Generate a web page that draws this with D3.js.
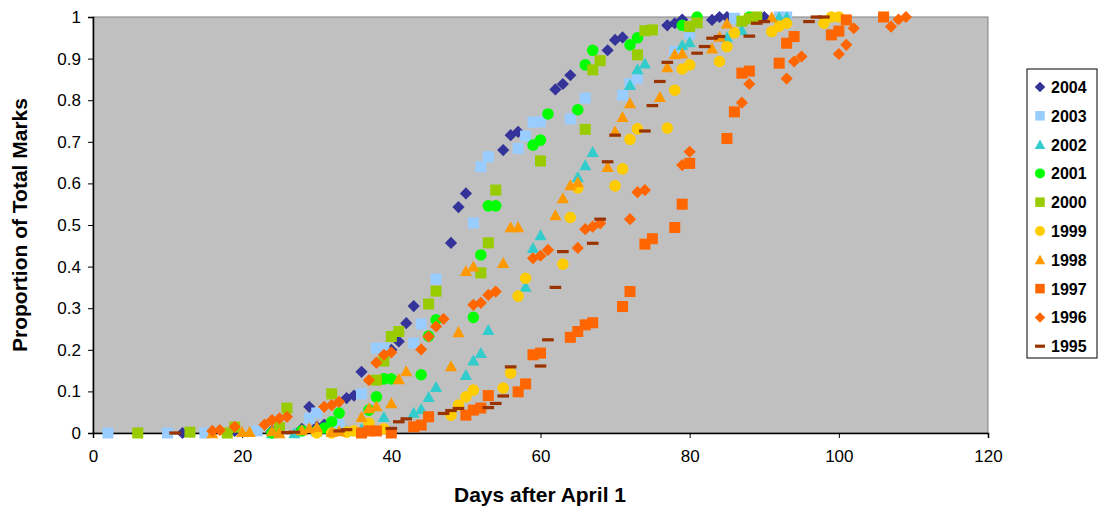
<!DOCTYPE html>
<html>
<head>
<meta charset="utf-8">
<title>Proportion of total marks</title>
<script src="https://d3js.org/d3.v7.min.js"></script>
<style>
  body { margin: 0; background: #fff; font-family: Arial, "Liberation Sans", sans-serif; }
  svg text { font-family: Arial, "Liberation Sans", sans-serif; }
</style>
</head>
<body>
<svg id="chart" width="1099" height="511"></svg>
<script>
// values: [day after April 1, proportion of total marks]
const years = ["2004", "2003", "2002", "2001", "2000", "1999", "1998", "1997", "1996", "1995"];

const s2004 = [[12,0],[19,0.005],[24,0.005],[28,0.01],[29,0.063],[30,0.015],[31,0.02],[34,0.084],[35,0.09],[36,0.147],[40,0.2],[41,0.22],[42,0.264],[43,0.305],[48,0.457],[49,0.543],[50,0.576],[55,0.68],[56,0.716],[57,0.724],[62,0.826],[63,0.839],[64,0.86],[69,0.92],[70,0.945],[71,0.951],[77,0.98],[78,0.985],[79,0.994],[83,0.993],[84,1],[85,1],[90,1]];
const s2003 = [[2,0],[10,0],[15,0],[22,0.005],[29,0.035],[30,0.048],[33,0.02],[36,0.094],[38,0.204],[39,0.204],[43,0.216],[44,0.262],[46,0.37],[51,0.505],[52,0.64],[53,0.664],[57,0.684],[58,0.714],[59,0.747],[60,0.748],[64,0.755],[66,0.805],[71,0.812],[72,0.84],[73,0.853],[78,0.917],[80,0.96],[86,0.997],[92,1],[93,1]];
const s2002 = [[24,0],[27,0],[30,0.005],[32,0.01],[34,0.005],[36,0.01],[37,0.02],[39,0.039],[43,0.049],[44,0.058],[45,0.087],[46,0.111],[50,0.14],[51,0.175],[52,0.193],[53,0.248],[58,0.352],[59,0.445],[60,0.476],[65,0.616],[66,0.644],[67,0.676],[72,0.837],[73,0.875],[74,0.889],[79,0.933],[80,0.94],[85,0.952],[87,0.969],[92,1],[93,1]];
const s2001 = [[24,0],[28,0.005],[30,0.005],[31,0.012],[32,0.027],[33,0.048],[37,0.055],[38,0.087],[39,0.13],[40,0.13],[44,0.14],[45,0.233],[46,0.272],[51,0.278],[52,0.428],[53,0.546],[54,0.546],[59,0.692],[60,0.704],[61,0.767],[65,0.777],[66,0.885],[67,0.92],[72,0.933],[73,0.95],[79,0.98],[81,1],[88,1]];
const s2000 = [[6,0],[13,0.002],[18,0],[19,0.014],[25,0.013],[26,0.06],[32,0.094],[38,0.127],[39,0.173],[40,0.232],[41,0.244],[45,0.31],[46,0.341],[52,0.385],[53,0.457],[54,0.584],[60,0.654],[66,0.73],[67,0.873],[68,0.895],[73,0.909],[74,0.967],[75,0.969],[80,0.977],[81,0.986],[87,0.99],[88,0.996],[89,1]];
const s1999 = [[30,0],[32,0],[34,0.002],[35,0.005],[37,0.024],[39,0.01],[48,0.043],[49,0.067],[50,0.087],[51,0.103],[55,0.108],[56,0.144],[57,0.329],[58,0.372],[63,0.406],[64,0.518],[65,0.589],[70,0.594],[71,0.635],[72,0.706],[73,0.731],[77,0.733],[78,0.824],[79,0.875],[80,0.885],[84,0.893],[85,0.929],[86,0.962],[91,0.965],[92,0.978],[93,0.985],[98,0.985],[99,1],[100,1]];
const s1998 = [[16,0],[20,0.003],[21,0.003],[24,0.005],[25,0],[28,0.007],[29,0.012],[30,0.015],[32,0.003],[33,0.005],[36,0.039],[37,0.06],[38,0.065],[40,0.072],[41,0.13],[42,0.149],[48,0.161],[49,0.243],[50,0.39],[51,0.401],[55,0.409],[56,0.495],[57,0.495],[62,0.524],[63,0.565],[64,0.596],[65,0.603],[69,0.64],[70,0.725],[71,0.76],[72,0.793],[76,0.808],[77,0.88],[78,0.911],[79,0.913],[83,0.925],[84,0.953],[85,0.985],[91,1]];
const s1997 = [[36,0],[37,0.005],[38,0.005],[40,0],[43,0.015],[44,0.019],[45,0.039],[50,0.043],[51,0.055],[52,0.06],[53,0.09],[57,0.099],[58,0.118],[59,0.188],[60,0.192],[64,0.23],[65,0.244],[66,0.26],[67,0.265],[71,0.304],[72,0.34],[74,0.454],[75,0.467],[78,0.494],[79,0.55],[80,0.648],[85,0.708],[86,0.772],[87,0.865],[88,0.87],[92,0.889],[93,0.937],[94,0.953],[99,0.957],[100,0.966],[101,0.993],[106,1]];
const s1996 = [[16,0.005],[17,0.007],[19,0.015],[23,0.02],[24,0.031],[25,0.035],[26,0.039],[31,0.063],[32,0.067],[33,0.075],[37,0.127],[38,0.169],[39,0.188],[40,0.194],[44,0.201],[45,0.232],[46,0.256],[47,0.274],[51,0.308],[52,0.313],[53,0.332],[54,0.34],[59,0.42],[60,0.426],[61,0.44],[65,0.445],[66,0.49],[67,0.496],[68,0.504],[72,0.514],[73,0.579],[74,0.584],[79,0.644],[80,0.676],[87,0.794],[88,0.839],[93,0.852],[94,0.893],[95,0.905],[100,0.911],[101,0.933],[102,0.973],[107,0.977],[108,0.994],[109,1]];
const s1995 = [[11,0],[26,0.001],[27,0.002],[33,0.005],[34,0.008],[40,0.011],[41,0.027],[42,0.034],[47,0.047],[48,0.054],[49,0.059],[53,0.061],[54,0.071],[55,0.089],[56,0.159],[60,0.161],[61,0.224],[62,0.35],[63,0.436],[67,0.456],[68,0.514],[69,0.652],[70,0.716],[74,0.726],[75,0.787],[76,0.845],[77,0.891],[81,0.913],[82,0.929],[83,0.949],[84,0.953],[88,0.954],[89,0.985],[90,0.989],[96,0.989],[97,1],[98,1]];

const xTicks = [0, 20, 40, 60, 80, 100, 120];
const yTicks = [0, 0.1, 0.2, 0.3, 0.4, 0.5, 0.6, 0.7, 0.8, 0.9, 1];

const seriesData = [s2004, s2003, s2002, s2001, s2000, s1999, s1998, s1997, s1996, s1995];
const shapes = ["diamond", "square", "triangle", "circle", "square", "circle", "triangle", "square", "diamond", "dash"];
const colors = ["#333399", "#99CCFF", "#33CCCC", "#00FF00", "#99CC00", "#FFCC00", "#FF9900", "#FF6600", "#FF6600", "#993300"];

const svg = d3.select("#chart");
const margin = { left: 93, top: 17, right: 988, bottom: 433 };

const x = d3.scaleLinear().domain([0, 120]).range([margin.left, margin.right]);
const y = d3.scaleLinear().domain([0, 1]).range([margin.bottom, margin.top]);

// marker paths centred on 0,0
function markerPath(shape, r) {
    switch (shape) {
        case "diamond": return `M0,${-r*1.05}L${r*1.05},0L0,${r*1.05}L${-r*1.05},0Z`;
        case "square": return `M${-r*0.95},${-r*0.95}H${r*0.95}V${r*0.95}H${-r*0.95}Z`;
        case "triangle": return `M0,${-r}L${r*1.05},${r*0.9}L${-r*1.05},${r*0.9}Z`;
        case "circle": return `M${r},0A${r},${r} 0 1,1 ${-r},0A${r},${r} 0 1,1 ${r},0Z`;
        case "dash": return `M${-r},-1.6H${r}V1.6H${-r}Z`;
    }
}

// plot area
svg.append("rect")
    .attr("x", margin.left)
    .attr("y", margin.top)
    .attr("width", margin.right - margin.left)
    .attr("height", margin.bottom - margin.top)
    .attr("fill", "#C0C0C0")
    .attr("stroke", "#808080")
    .attr("stroke-width", 1);

// axes
const yAxis = svg.append("g")
    .attr("transform", `translate(${margin.left},0)`)
    .call(d3.axisLeft(y).tickValues(yTicks).tickSize(5).tickPadding(7).tickFormat(d3.format("")));

const xAxis = svg.append("g")
    .attr("transform", `translate(0,${margin.bottom})`)
    .call(d3.axisBottom(x).tickValues(xTicks).tickSize(5).tickPadding(12));

[xAxis, yAxis].forEach(g => {
    g.select(".domain").attr("stroke", "#000").attr("stroke-width", 1.5);
    g.selectAll(".tick line").attr("stroke", "#000");
    g.selectAll(".tick text").attr("font-size", 17).attr("fill", "#000");
});

// points, older years drawn on top
seriesData.forEach((data, i) => {
    svg.append("g")
        .selectAll("path")
        .data(data)
        .enter()
        .append("path")
        .attr("transform", d => `translate(${x(d[0])},${y(d[1])})`)
        .attr("d", markerPath(shapes[i], 5.8))
        .attr("fill", colors[i]);
});

// axis titles
svg.append("text")
    .attr("x", 540)
    .attr("y", 502)
    .attr("text-anchor", "middle")
    .attr("font-size", 21)
    .attr("font-weight", "bold")
    .text("Days after April 1");

svg.append("text")
    .attr("transform", `translate(27,${(margin.top + margin.bottom) / 2}) rotate(-90)`)
    .attr("text-anchor", "middle")
    .attr("font-size", 21)
    .attr("font-weight", "bold")
    .text("Proportion of Total Marks");

// legend
const legend = svg.append("g").attr("transform", "translate(1027,69)");

legend.append("rect")
    .attr("width", 70)
    .attr("height", 289)
    .attr("fill", "#fff")
    .attr("stroke", "#000");

years.forEach((yr, i) => {
    const row = legend.append("g").attr("transform", `translate(13,${18 + i * 28.8})`);
    row.append("path")
        .attr("d", markerPath(shapes[i], 5))
        .attr("fill", colors[i]);
    row.append("text")
        .attr("x", 11)
        .attr("y", 6)
        .attr("font-size", 16)
        .attr("font-weight", "bold")
        .text(yr);
});
</script>
</body>
</html>
